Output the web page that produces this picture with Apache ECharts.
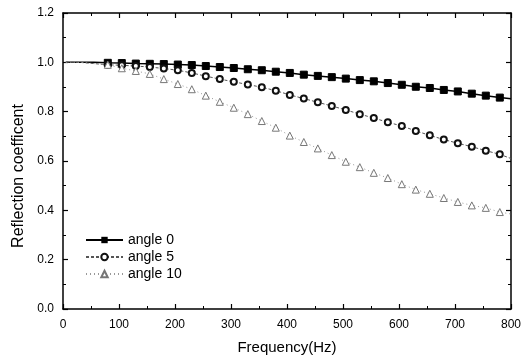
<!DOCTYPE html>
<html>
<head>
<meta charset="utf-8">
<script src="https://cdn.jsdelivr.net/npm/echarts@6/dist/echarts.min.js"></script>
<style>html,body{margin:0;padding:0;background:#fff;}#c{width:525px;height:361px;}</style>
</head>
<body>
<div id="c"></div>
<script>
var freqs = [5,30,55,80,105,130,155,180,205,230,255,280,305,330,355,380,405,430,455,480,505,530,555,580,605,630,655,680,705,730,755,780,800];
var angle0 = [1.0,1.0,1.0,0.998,0.997,0.995,0.994,0.993,0.991,0.989,0.985,0.981,0.977,0.972,0.968,0.962,0.957,0.950,0.945,0.940,0.934,0.928,0.923,0.916,0.909,0.901,0.896,0.888,0.882,0.873,0.865,0.857,0.852];
var angle5 = [1.0,1.0,0.995,0.990,0.988,0.985,0.981,0.975,0.968,0.957,0.944,0.932,0.921,0.910,0.899,0.885,0.868,0.853,0.838,0.823,0.807,0.790,0.774,0.757,0.742,0.722,0.704,0.687,0.672,0.658,0.642,0.627,0.610];
var angle10 = [1.0,1.0,0.995,0.990,0.976,0.965,0.953,0.932,0.912,0.891,0.865,0.840,0.816,0.790,0.762,0.735,0.703,0.677,0.651,0.624,0.597,0.575,0.552,0.531,0.506,0.484,0.467,0.450,0.434,0.420,0.410,0.393,0.385];
var seriesNames = ['angle 0','angle 5','angle 10'];
var xTitle = 'Frequency(Hz)';
var yTitle = 'Reflection coefficent';
var markerFrom = 80, markerTo = 780;

function build(vals){
  return freqs.map(function(f,i){
    var d = {value:[f, vals[i]]};
    if (f < markerFrom || f > markerTo) d.symbol = 'none';
    return d;
  });
}
var font = 'Liberation Sans, Arial, sans-serif';
var chart = echarts.init(document.getElementById('c'));
var axisCommon = {
  axisLine:{show:true, onZero:false, lineStyle:{color:'#000', width:1.5}},
  axisTick:{show:true, inside:true, length:5, lineStyle:{color:'#000', width:1.2}},
  minorTick:{show:true, splitNumber:2, length:3, lineStyle:{color:'#000', width:1}},
  splitLine:{show:false}
};
chart.setOption({
  animation:false,
  backgroundColor:'#fff',
  grid:{left:63, right:14, top:13, bottom:52, containLabel:false, outerBoundsMode:'none'},
  legend:{
    orient:'vertical', left:80, top:228, itemWidth:37, itemHeight:8, itemGap:3,
    textStyle:{fontFamily:font, fontSize:14, color:'#000'},
    data:seriesNames
  },
  graphic:[{type:'text', x:19, y:176, rotation:Math.PI/2,
    style:{text:yTitle, font:'16px ' + font, fill:'#000', align:'center', verticalAlign:'middle'}}],
  xAxis:[
    Object.assign({type:'value', min:0, max:800, interval:100,
      name:xTitle, nameLocation:'middle', nameGap:31,
      nameTextStyle:{fontFamily:font, fontSize:15, color:'#000'},
      axisLabel:{fontFamily:font, fontSize:12, color:'#000', margin:10}}, axisCommon),
    Object.assign({type:'value', position:'top', min:0, max:800, interval:100,
      axisLabel:{show:false}}, axisCommon)
  ],
  yAxis:[
    Object.assign({type:'value', min:0, max:1.2, interval:0.2,
      axisLabel:{fontFamily:font, fontSize:12, color:'#000', margin:9,
        formatter:function(v){return v.toFixed(1);}}}, axisCommon),
    Object.assign({type:'value', position:'right', min:0, max:1.2, interval:0.2,
      axisLabel:{show:false}}, axisCommon)
  ],
  series:[
    {name:seriesNames[0], type:'line', data:build(angle0), symbol:'rect', symbolSize:7,
      lineStyle:{color:'#000', width:1.5}, itemStyle:{color:'#000', borderColor:'#000'}},
    {name:seriesNames[1], type:'line', data:build(angle5), symbol:'circle', symbolSize:6,
      lineStyle:{color:'#555', width:1, type:[3,2]}, itemStyle:{color:'#fff', borderColor:'#111', borderWidth:2}},
    {name:seriesNames[2], type:'line', data:build(angle10), symbol:'triangle', symbolSize:7,
      lineStyle:{color:'#999', width:1, type:[1,3]}, itemStyle:{color:'#fff', borderColor:'#777', borderWidth:1}}
  ]
});
</script>
</body>
</html>
